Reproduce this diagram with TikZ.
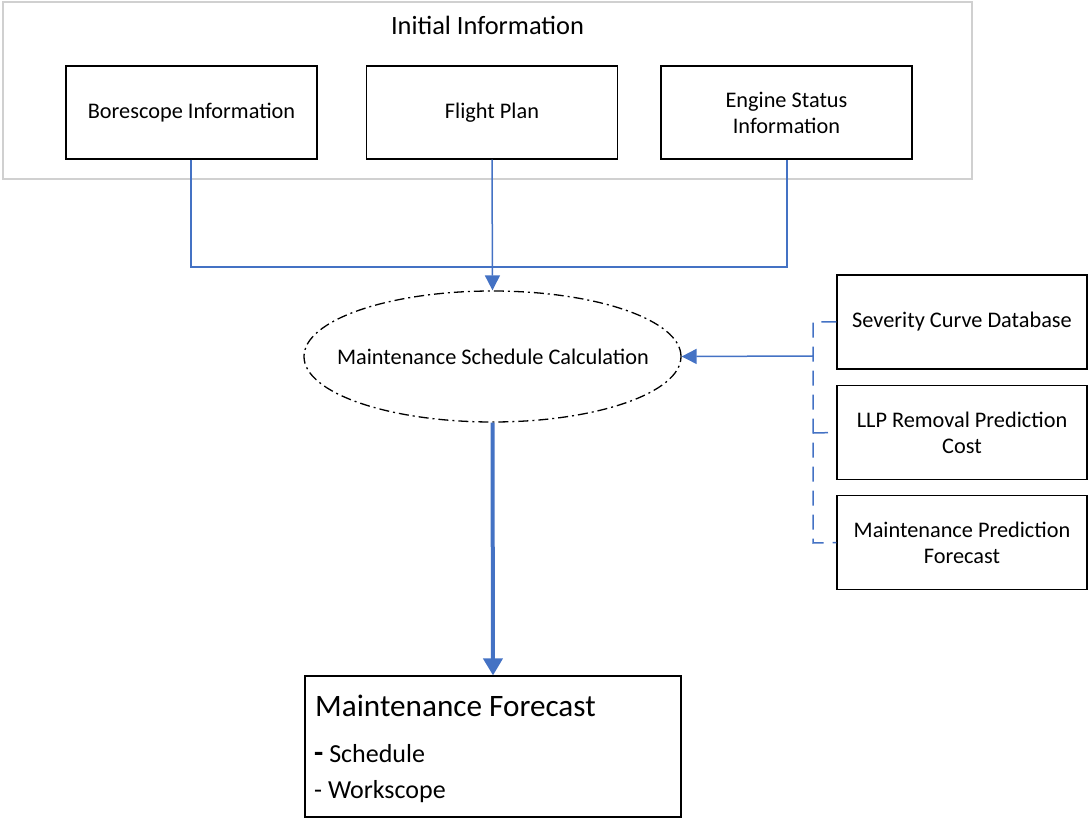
\documentclass[tikz,border=0pt]{standalone}
\usepackage{fontspec}
\setmainfont{Carlito}
\usetikzlibrary{arrows.meta,shapes.geometric}
\definecolor{lnblue}{HTML}{4472C4}
\definecolor{frame}{HTML}{D0D0D0}
\tikzset{
  infobox/.style={draw=black, line width=1.2pt, minimum width=251pt, minimum height=93pt, inner sep=0pt, align=center, font=\fontsize{22.3}{26}\selectfont},
  sidebox/.style={draw=black, line width=1.2pt, minimum width=250pt, minimum height=94pt, inner sep=0pt, align=center, font=\fontsize{22.3}{26}\selectfont},
  link/.style={draw=lnblue, line width=1.5pt},
  bracket/.style={draw=lnblue, line width=1.5pt, dash pattern=on 15pt off 9pt},
  tip/.style={-{Triangle[length=15pt,width=15pt]}},
}
\begin{document}
\begin{tikzpicture}[x=1pt,y=-1pt]
\useasboundingbox (0,0) rectangle (1088,818);
% container
\node[draw=frame, line width=1.2pt, minimum width=969pt, minimum height=177pt, inner sep=0pt] (container) at (487.5,90.5) {};
\node[font=\fontsize{26.4}{31}\selectfont, anchor=base] (title) at (487.5,35) {Initial Information};
% top boxes
\node[infobox] (bore) at (191.5,112.5) {Borescope Information};
\node[infobox] (flight) at (492,112.5) {Flight Plan};
\node[infobox] (engine) at (786.5,112.5) {Engine Status\\Information};
% ellipse
\node[ellipse, draw=black, line width=1.3pt, dash pattern=on 10pt off 4pt on 2pt off 4pt, minimum width=377pt, minimum height=131pt, inner sep=0pt] (calc) at (492.5,356.5) {};
\node[font=\fontsize{22.3}{26}\selectfont, inner sep=0pt] (calct) at (493,357) {Maintenance Schedule Calculation};
% side boxes
\node[sidebox] (sev) at (962,322) {Severity Curve Database};
\node[sidebox] (llp) at (962,432.5) {LLP Removal Prediction\\Cost};
\node[sidebox] (mpf) at (962,542.5) {Maintenance Prediction\\Forecast};
% forecast box
\node[draw=black, line width=1.2pt, minimum width=376pt, minimum height=141pt, inner sep=0pt] (fc) at (493,746.5) {};
\node[anchor=base west, inner sep=0pt, font=\fontsize{31.2}{36}\selectfont] (fct) at (315,716) {Maintenance Forecast};
\node[anchor=base west, inner sep=0pt, font=\fontsize{26}{31}\selectfont] (fs) at (314,762) {{\fontsize{30}{31}\selectfont\textbf{-}} Schedule};
\node[anchor=base west, inner sep=0pt, font=\fontsize{26}{31}\selectfont] (fw) at (314,798) {- Workscope};
% coordinates
\coordinate (j1) at (191,267);
\coordinate (j2) at (787,267);
\coordinate (bx) at (813,322);
\coordinate (bm) at (813,356);
\coordinate (bl) at (813,433);
\coordinate (by) at (813,543);
% connectors
\draw[link] (bore.south -| j1) -- (j1) -- (j2) -- (engine.south -| j2);
\draw[link, tip] (flight.south) -- (calc.north);
\draw[bracket] (sev.west) -- (bx) -- (by) -- (mpf.west);
\draw[bracket] (bl) -- (llp.west);
\draw[link, tip] (bm) -- (calc.east);
\draw[draw=lnblue, line width=4pt, -{Triangle[length=17pt,width=19pt]}] (calc.south) -- (fc.north);
\end{tikzpicture}
\end{document}
